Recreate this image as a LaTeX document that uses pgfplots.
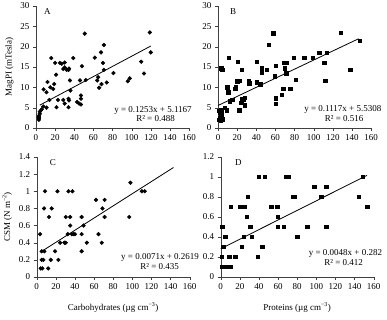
\documentclass[border=0pt]{standalone}
\usepackage{fontspec}
\setmainfont{Liberation Serif}
\usepackage{pgfplots}
\pgfplotsset{compat=1.18}
\pgfplotsset{
 panel/.style={
  scale only axis, width=153pt, height=122pt,
  axis lines*=left, axis line style={black!75},
  tick align=outside, major tick length=3pt, tick style={black!75},
  xmin=0, xmax=160, xtick={0,20,...,160},
  ticklabel style={font=\fontsize{9}{10}\selectfont},
  label style={font=\fontsize{9}{10}\selectfont},
  /pgf/number format/assume math mode=true,
  yticklabel style={/pgf/number format/fixed},
  clip=false,
 },
 circ/.style={only marks, mark=*, mark size=1.9pt, black},
 sq/.style={only marks, mark=square*, mark size=1.7pt, black},
 trend/.style={black, thick, no marks},
}
\tikzset{eq/.style={font=\fontsize{9}{10}\selectfont, anchor=center}}
\begin{document}
\begin{tikzpicture}[x=1pt,y=1pt]
\path[use as bounding box] (0,0) rectangle (387,320);
% ---------------- A
\begin{axis}[panel, at={(36pt,192pt)}, anchor=south west,
  ymin=0, ymax=30, ytick={0,5,...,30}, ylabel={MagPI (mTesla)}]
\addplot[circ] coordinates {
(3,2) (3,2.3) (3,2.7) (3,3) (4,3.5) (4,4) (5,4.3) (3,2.5) (6,4.6)
(7.6,5.3) (8,9.5) (11,8.8) (11,5) (12,11.3) (15,10) (14,6.9) (16,17.2)
(18,9.6) (19,10.8) (20,16) (21.5,5.1) (21,13.1) (23,6.9) (25,16) (27,15.8)
(28.5,14.5) (28.5,6.9) (30,16.1) (30,14.9) (30,6) (32,14.3) (34,14.3) (34.5,14.6)
(34,5.1) (34,7.2) (34.5,6.8) (35.5,11.7) (36,9.2) (39,17.2) (43,6.4) (45,6)
(46,11.7) (47,8) (47,7.2) (47,5.8) (48,15.2) (51,23.2) (52,11.8) (61.5,17.3)
(64,11.7) (65,12.5) (66,9.9) (68,18.6) (68.5,10.8) (70,16) (71,20.4) (71,14.3)
(74,11.2) (81,13.5) (96,11.5) (98,12.2) (110,16.3) (113,13.4) (119,23.5) (120,18.6)
};
\addplot[trend] coordinates {(4,5.618) (120,20.153)};
\node[eq] at (axis cs:122.4,4.4) {y = 0.1253x + 5.1167};
\node[eq] at (axis cs:125,2.3) {R² = 0.488};
\node[eq] at (axis cs:11.8,28.6) {A};
\end{axis}
% ---------------- B
\begin{axis}[panel, at={(218pt,192pt)}, anchor=south west,
  ymin=0, ymax=30, ytick={0,5,...,30}]
\addplot[sq] coordinates {
(1,2) (2,2.6) (3,3) (3.5,3.4) (2,3.8) (1,4.2) (3.5,4.5) (4.5,2.2) (3,1.9)
(3.5,14.7) (4.5,14.3) (7,5) (9,4.4) (9.5,10) (10.6,8.8) (11.3,17.3) (12.4,6.6)
(14.8,6.9) (18,9.6) (18.8,10.1) (20,11.5) (20.6,16.3) (22,4.4) (22.6,11.7)
(24.4,6.2) (25,14.3) (25,7.2) (26.8,7) (28,7.4) (28,5.6) (32,11.7) (32.6,11)
(40.5,16.3) (40.5,11.3) (44,10.8) (46,14.7) (46,13.6) (51,14.3) (53,20.5)
(57.6,23.3) (59.4,12.7) (60.4,15.3) (60.4,7.3) (60.4,6) (66.6,8.2) (68,9.6)
(68.7,16) (69.7,14.7) (71.4,16) (71.4,13.5) (75.5,9.7) (79,17.3) (81,11.9)
(90.3,17.3) (99,17.3) (105.7,18.5) (111,16) (112,11.7) (113.6,18.5) (128,23.4)
(138.4,14.3) (148,21.4)
};
\addplot[trend] coordinates {(0,5.5308) (147,21.95)};
\node[eq] at (axis cs:130.5,4.6) {y = 0.1117x + 5.5308};
\node[eq] at (axis cs:132,2.4) {R² = 0.516};
\node[eq] at (axis cs:15.8,28.6) {B};
\end{axis}
% ---------------- C
\begin{axis}[panel, at={(36.7pt,43pt)}, anchor=south west, height=120pt,
  ymin=0, ymax=1.4, ytick={0,0.2,...,1.4}, ylabel={CSM (N m\textsuperscript{−2})},
  xlabel={Carbohydrates (µg cm\textsuperscript{−3})}, xlabel style={yshift=-6pt}]
\addplot[circ] coordinates {
(3.5,0.5) (4.2,0.1) (5.2,0.2) (5.9,0.1) (5.2,0.3) (7,0.2) (8,0.3) (7.7,0.8)
(8.7,1.0) (12,0.1) (12.9,0.7) (14.7,0.2) (15.7,0.8) (19.2,0.3) (21.7,1.0)
(22.7,0.2) (24.5,0.4) (29,0.4) (30.4,0.4) (30.4,0.7) (32.5,0.5) (33.2,1.0)
(35,0.7) (35,0.6) (36.7,0.5) (37.4,1.0) (38.4,0.5) (40,0.5) (47,0.7) (47,0.5)
(47,0.3) (49,0.6) (52.4,0.4) (62,0.9) (64.6,0.5) (68,0.4) (68.8,0.8) (71,0.9)
(71,0.7) (96.8,0.7) (98,1.1) (110,1.0) (113,1.0)
};
\addplot[trend] coordinates {(5,0.2974) (143,1.2772)};
\node[eq] at (axis cs:129,0.227) {y = 0.0071x + 0.2619};
\node[eq] at (axis cs:128.5,0.117) {R² = 0.435};
\node[eq] at (axis cs:16.8,1.33) {C};
\end{axis}
% ---------------- D
\begin{axis}[panel, at={(220.7pt,43pt)}, anchor=south west, height=120pt,
  ymin=0, ymax=1.2, ytick={0,0.2,...,1.2},
  xlabel={Proteins (µg cm\textsuperscript{−3})}, xlabel style={yshift=-6pt}]
\addplot[sq] coordinates {
(1,0.2) (1.7,0.5) (2.8,0.3) (1.7,0.1) (3,0.1) (4.5,0.1) (6,0.1) (8,0.1) (10,0.1)
(4.5,0.4) (5.5,0.4) (9,0.2) (10.4,0.7) (15,0.2) (20,0.7) (22,0.3) (24.7,0.7)
(24.3,0.4) (27,0.6) (28,0.8) (31,0.5) (32.3,0.4) (39,0.2) (40,1.0) (43.4,0.3)
(45.8,1.0) (52.8,0.7) (59,0.7) (59.4,0.6) (59.4,0.5) (66,0.5) (67.7,1.0)
(70.5,1.0) (75,0.8) (77.4,0.8) (80,0.4) (90.6,0.5) (97.6,0.9) (105,0.8)
(110.4,0.9) (110.4,0.5) (144.4,0.8) (148.6,1.0) (153,0.7)
};
\addplot[trend] coordinates {(0,0.282) (153,1.0164)};
\node[eq] at (axis cs:130.5,0.231) {y = 0.0048x + 0.282};
\node[eq] at (axis cs:128.5,0.144) {R² = 0.412};
\node[eq] at (axis cs:18.4,1.14) {D};
\end{axis}
\end{tikzpicture}
\end{document}
